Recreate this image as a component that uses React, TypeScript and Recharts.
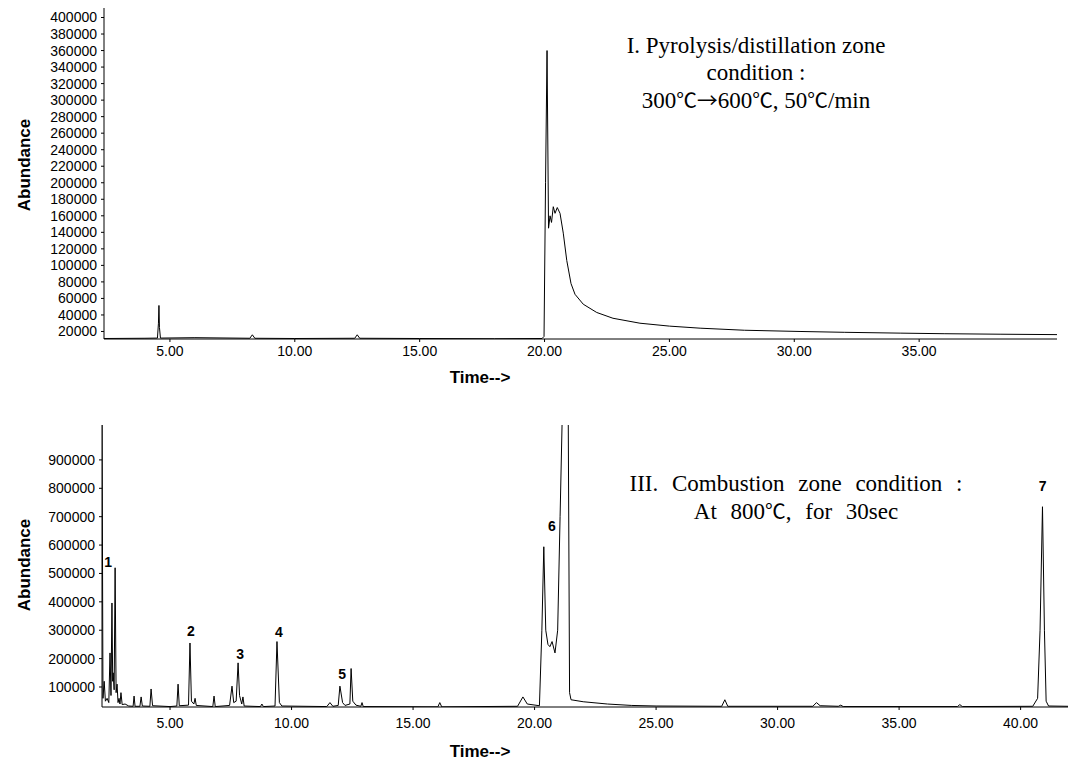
import { LineChart, Line, XAxis, YAxis, ReferenceDot } from "recharts"

// I. pyrolysis/distillation zone (top trace)
const topTime = [
  2.36, 4.0, 4.5, 4.54, 4.56, 4.58, 4.62, 6.0, 8.2, 8.3, 8.4, 10.0, 12.4, 12.5, 12.6, 15.0, 18.0,
  19.9, 19.98, 20.04, 20.1, 20.16, 20.22, 20.28, 20.35, 20.42, 20.51, 20.62, 20.75, 20.89, 21.06,
  21.22, 21.55, 22.09, 22.74, 23.82, 25.0, 26.23, 28.0, 30.23, 32.0, 34.24, 36.0, 38.24, 40.52,
]
const topAbundance = [
  11500, 11800, 12000, 30000, 51500, 25000, 12000, 12500, 11800, 16000, 11800, 11500, 11800, 16000, 11800, 11500, 11200,
  11500, 14000, 200000, 360000, 145000, 160000, 152000, 171000, 163000, 170000, 163000, 139000, 106000, 78000,
  65000, 53000, 43000, 36000, 30000, 26500, 24000, 21500, 20000, 19000, 18000, 17300, 16700, 16200,
]

// III. combustion zone (bottom trace)
const bottomTime = [
  2.2, 2.24, 2.29, 2.34, 2.41, 2.48, 2.53, 2.57, 2.61, 2.64, 2.66, 2.7, 2.74, 2.78, 2.82, 2.86, 2.9, 2.94, 2.98, 3.03,
  3.15, 3.3, 3.48, 3.52, 3.56, 3.76, 3.81, 3.86, 4.17, 4.22, 4.28, 5.0, 5.28, 5.33, 5.38, 5.76, 5.82, 5.88, 5.98, 6.03,
  6.08, 6.76, 6.81, 6.86, 7.45, 7.55, 7.62, 7.72, 7.8, 7.86, 7.95, 8.0, 8.05, 8.72, 8.78, 8.84, 9.32, 9.4, 9.5, 9.6,
  11.45, 11.58, 11.7, 11.92, 11.99, 12.1, 12.2, 12.4, 12.45, 12.52, 12.65, 12.85, 12.9, 12.95, 16.02, 16.1, 16.18,
  19.3, 19.52, 19.7, 20.2, 20.3, 20.38, 20.46, 20.55, 20.63, 20.72, 20.84, 20.95, 21.05, 21.15, 21.3, 21.38, 21.44,
  21.5, 22.0, 23.0, 24.0, 25.0, 27.7, 27.83, 27.95, 31.45, 31.6, 31.75, 32.5, 32.6, 32.7, 37.4, 37.5, 37.6, 40.5,
  40.7, 40.8, 40.9, 40.98, 41.05, 41.15, 41.95,
]
const bottomAbundance = [
  1100000, 60000, 120000, 50000, 60000, 45000, 220000, 70000, 396000, 120000, 150000, 90000, 520000, 80000, 110000, 45000, 60000, 40000, 80000, 38000,
  40000, 33000, 32000, 68000, 32000, 32000, 65000, 33000, 32000, 93000, 34000, 31000, 33000, 110000, 34000, 36000, 255000, 50000, 40000, 60000,
  35000, 31000, 68000, 31000, 35000, 103000, 45000, 50000, 185000, 70000, 40000, 65000, 33000, 31000, 40000, 31000, 33000, 260000, 45000, 33000,
  31000, 45000, 32000, 35000, 103000, 45000, 35000, 40000, 165000, 50000, 36000, 32000, 45000, 31000, 30000, 45000, 30000,
  32000, 65000, 40000, 34000, 300000, 594000, 300000, 250000, 242000, 260000, 220000, 300000, 700000, 1100000, 1150000, 1150000, 80000,
  55000, 48000, 40000, 35000, 33000, 32000, 55000, 32000, 32000, 45000, 34000, 32000, 36000, 31000, 31000, 38000, 31000, 32000,
  60000, 300000, 735000, 300000, 50000, 33000, 32000,
]

const topYTicks = [
  20000, 40000, 60000, 80000, 100000, 120000, 140000, 160000, 180000, 200000,
  220000, 240000, 260000, 280000, 300000, 320000, 340000, 360000, 380000, 400000,
]
const bottomYTicks = [100000, 200000, 300000, 400000, 500000, 600000, 700000, 800000, 900000]
const topXTicks = [5, 10, 15, 20, 25, 30, 35]
const bottomXTicks = [5, 10, 15, 20, 25, 30, 35, 40]

const peakNames = ["1", "2", "3", "4", "5", "6", "7"]
const peakLabelTime = [2.45, 5.86, 7.88, 9.48, 12.08, 20.71, 40.91]
const peakLabelAbundance = [541000, 298000, 217000, 294000, 146000, 668000, 808000]

const topData = topTime.map((t, i) => ({ time: t, abundance: topAbundance[i] }))
const bottomData = bottomTime.map((t, i) => ({ time: t, abundance: bottomAbundance[i] }))

const sans = "'Liberation Sans', Arial, Helvetica, sans-serif"
const serif = "'Liberation Serif', 'Times New Roman', serif"
const cjk = "'Noto Sans CJK KR', 'DejaVu Serif', serif"
const tickStyle = { fill: "#000", fontSize: 14, fontFamily: sans }

function Text({ x, y, children, style }: { x: number; y: number; children: any; style?: any }) {
  return (
    <div
      style={{
        position: "absolute",
        left: x,
        top: y,
        transform: "translate(-50%, -50%)",
        whiteSpace: "nowrap",
        color: "#000",
        ...style,
      }}
    >
      {children}
    </div>
  )
}

// ℃ and the arrow come from a CJK font, as in the original figure
const Sym = ({ c }: { c: string }) => <span style={{ fontFamily: cjk, fontSize: "0.9em" }}>{c}</span>

const axisTitle = { fontFamily: sans, fontWeight: "bold", fontSize: 17 }
const noteStyle = { fontFamily: serif, fontSize: 23, lineHeight: "27px", textAlign: "center" as const }

export default function App() {
  return (
    <div style={{ position: "absolute", left: 0, top: 0, width: 1072, height: 763, background: "#fff" }}>
      <div style={{ position: "absolute", left: 0, top: 0 }}>
        <LineChart width={1072} height={390} data={topData} margin={{ top: 8, right: 15, bottom: 21, left: 0 }}>
          <XAxis
            type="number"
            dataKey="time"
            domain={[2.36, 40.52]}
            ticks={topXTicks}
            tickFormatter={(v) => v.toFixed(2)}
            allowDataOverflow
            height={30}
            tick={tickStyle}
            tickSize={3}
            tickMargin={4}
            axisLine={{ stroke: "#000" }}
            tickLine={{ stroke: "#000" }}
          />
          <YAxis
            type="number"
            domain={[10900, 411500]}
            ticks={topYTicks}
            interval={0}
            allowDataOverflow
            width={104}
            tick={tickStyle}
            tickSize={3}
            tickMargin={4}
            axisLine={{ stroke: "#000" }}
            tickLine={{ stroke: "#000" }}
          />
          <Line
            type="linear"
            dataKey="abundance"
            stroke="#000"
            strokeWidth={1}
            dot={false}
            isAnimationActive={false}
          />
        </LineChart>
      </div>

      <div style={{ position: "absolute", left: 0, top: 390 }}>
        <LineChart width={1072} height={373} data={bottomData} margin={{ top: 35, right: 4, bottom: 26, left: 0 }}>
          <XAxis
            type="number"
            dataKey="time"
            domain={[2.2, 41.95]}
            ticks={bottomXTicks}
            tickFormatter={(v) => v.toFixed(2)}
            allowDataOverflow
            height={30}
            tick={tickStyle}
            tickSize={3}
            tickMargin={8}
            axisLine={{ stroke: "#000" }}
            tickLine={{ stroke: "#000" }}
          />
          <YAxis
            type="number"
            domain={[29500, 1023000]}
            ticks={bottomYTicks}
            interval={0}
            allowDataOverflow
            width={102}
            tick={tickStyle}
            tickSize={3}
            tickMargin={4}
            axisLine={{ stroke: "#000" }}
            tickLine={{ stroke: "#000" }}
          />
          <Line
            type="linear"
            dataKey="abundance"
            stroke="#000"
            strokeWidth={1}
            dot={false}
            isAnimationActive={false}
          />
          {peakNames.map((name, i) => (
            <ReferenceDot
              key={name}
              x={peakLabelTime[i]}
              y={peakLabelAbundance[i]}
              r={0}
              fill="none"
              stroke="none"
              ifOverflow="visible"
              label={{ value: name, position: "center", fill: "#000", fontSize: 14, fontWeight: "bold", fontFamily: sans }}
            />
          ))}
        </LineChart>
      </div>

      <Text x={25} y={165} style={{ ...axisTitle, transform: "translate(-50%, -50%) rotate(-90deg)" }}>
        Abundance
      </Text>
      <Text x={25} y={565} style={{ ...axisTitle, transform: "translate(-50%, -50%) rotate(-90deg)" }}>
        Abundance
      </Text>
      <Text x={480} y={378} style={axisTitle}>
        Time--&gt;
      </Text>
      <Text x={480} y={752} style={axisTitle}>
        Time--&gt;
      </Text>

      <Text x={756} y={73} style={noteStyle}>
        I. Pyrolysis/distillation zone
        <br />
        condition :
        <br />
        300<Sym c="℃" />
        <Sym c="→" />
        600<Sym c="℃" />, 50<Sym c="℃" />/min
      </Text>
      <Text x={796} y={497} style={{ ...noteStyle, wordSpacing: 8 }}>
        III. Combustion zone condition :
        <br />
        At 800<Sym c="℃" />, for 30sec
      </Text>
    </div>
  )
}
